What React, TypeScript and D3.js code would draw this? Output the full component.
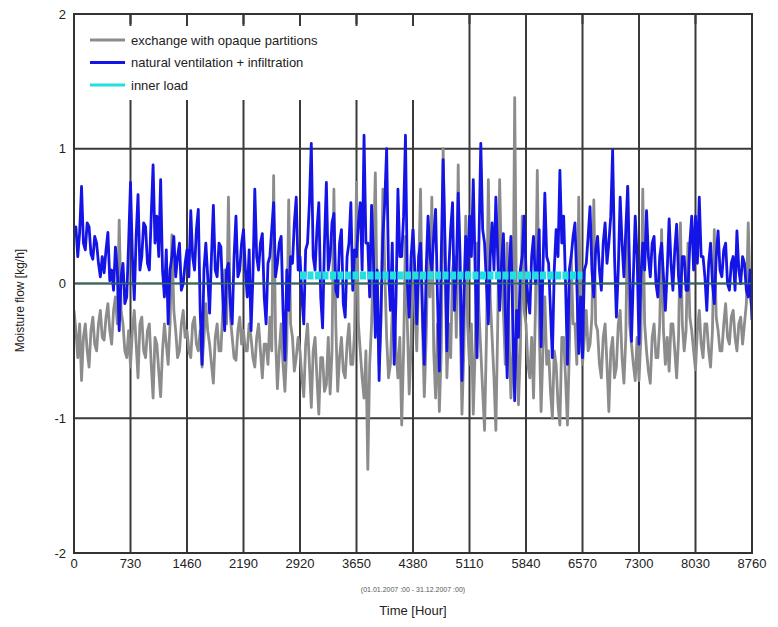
import React from "react";
import * as d3 from "d3";

// ---------- data ----------
const xTicks = [0, 730, 1460, 2190, 2920, 3650, 4380, 5110, 5840, 6570, 7300, 8030, 8760];
const yTicks = [-2, -1, 0, 1, 2];

// exchange with opaque partitions (kg/h), read at evenly spaced hours over the year
const opaqueExchange = [
  -0.2,-0.35, -0.55,-0.3, -0.72,-0.4, -0.3,-0.5, -0.62,-0.35, -0.25,-0.45, -0.5,-0.3, -0.2,-0.4, -0.42,-0.25, -0.15,-0.35, -0.45,-0.2, -0.1,-0.3, 0.47,-0.2, -0.3,-0.5, -0.55,-0.35,
  -0.62,-0.35, -0.2,-0.45, -0.7,-0.3, -0.25,-0.5, -0.55,-0.35, -0.3,-0.6, -0.85,-0.4, -0.45,-0.65, -0.84,-0.5, -0.3,-0.45, -0.6,-0.3, 0.36,-0.2, -0.35,-0.55, -0.5,-0.3, -0.2,-0.4,
  -0.35,-0.5, -0.55,-0.3, -0.25,-0.45, -0.5,-0.35, -0.62,-0.4, -0.15,-0.35, -0.45,-0.6, -0.74,-0.4, -0.3,-0.5, -0.5,-0.2, 0.1,-0.3, 0.64,-0.25, -0.4,-0.55, -0.57,-0.35, -0.25,-0.45,
  -0.35,-0.5, -0.5,-0.3, -0.4,-0.55, -0.62,-0.4, -0.3,-0.5, -0.7,-0.45, -0.45,-0.6, -0.25,-0.5, 0.8,-0.4, -0.78,-0.5, -0.3,-0.6, -0.8,-0.45, 0.62,-0.3, -0.4,-0.65, -0.55,-0.4,
  -0.5,-0.7, -0.84,-0.45, -0.3,-0.6, -0.92,-0.5, -0.4,-0.7, -0.97,-0.55, -0.55,-0.8, -0.75,-0.4, -0.82,-0.5, 0.7,-0.3, -0.8,-0.55, -0.4,-0.65, -0.7,-0.45, -0.3,-0.6, -0.6,-0.35,
  0.75,-0.3, -0.5,-0.7, -0.85,-0.5, -1.38,-0.6, -0.3,0.2, 0.82,-0.2, -0.6,-0.3, 0.7,0.1, -0.4,-0.7, -0.6,-0.2, -0.15,-0.5, -0.7,-0.4, -1.05,-0.5, 0.35,-0.3, -0.82,-0.45,
  0.4,-0.2, -0.5,0.1, 0.7,-0.3, -0.84,-0.4, 0.3,-0.1, 0.64,-0.5, -0.85,-0.3, -0.95,-0.5, 1.0,0.2, -0.7,-0.3, -0.55,0.1, 0.2,-0.4, 0.88,-0.2, -0.97,-0.5, 0.5,-0.3,
  -0.6,-0.3, -0.97,-0.5, 0.3,-0.2, -0.5,-0.8, -1.09,-0.4, 0.77,-0.1, -0.4,-0.7, -1.09,-0.3, 0.77,0.1, -0.2,-0.6, 0.3,-0.4, -0.85,-0.5, 1.38,-0.3, -0.9,-0.5, 0.5,-0.2,
  -0.3,-0.6, -0.7,-0.4, -0.85,-0.2, 0.84,-0.3, -0.95,-0.5, -0.1,-0.6, -0.5,-0.8, -1.0,-0.5, -0.6,-0.9, -1.05,-0.4, -0.4,-0.7, -1.05,-0.5, 0.2,-0.3, -0.3,-0.6, 0.64,-0.3,
  -0.6,-0.4, -0.2,-0.5, -0.45,-0.25, 0.62,-0.3, -0.35,-0.6, -0.7,-0.4, -0.3,-0.6, -0.95,-0.5, -0.4,-0.7, -0.62,-0.3, -0.2,-0.55, -0.74,-0.4, 0.72,-0.3, -0.45,-0.6, -0.72,-0.4,
  -0.72,-0.4, 0.7,-0.3, -0.5,-0.65, -0.74,-0.4, -0.3,-0.55, -0.55,-0.3, 0.4,-0.35, -0.6,-0.4, -0.65,-0.3, -0.3,-0.5, -0.7,-0.4, 0.45,-0.3, -0.5,-0.35, 0.3,-0.25, -0.35,-0.5,
  -0.64,-0.35, -0.2,-0.45, -0.55,-0.3, -0.3,-0.5, -0.62,-0.35, 0.4,-0.25, -0.35,-0.5, -0.5,-0.3, -0.15,-0.4, -0.45,-0.25, -0.2,-0.4, -0.5,-0.3, -0.25,-0.45, -0.3,-0.15, 0.45,-0.1, -0.2,
];

// natural ventilation + infiltration (kg/h)
const ventilation = [
  0.35,0.42, 0.2,0.38, 0.72,0.3, 0.25,0.45, 0.42,0.22, 0.18,0.35, 0.3,0.15, 0.05,0.2, 0.08,0.25, 0.38,0.02, 0.1,-0.05, 0.27,0.1, -0.35,0.05, 0.15,-0.15, -0.1,0.3,
  0.75,0.2, -0.12,0.35, 0.66,0.1, 0.2,0.45, 0.42,0.15, 0.1,0.5, 0.88,0.3, 0.5,0.2, 0.77,0.1, -0.1,0.25, -0.3,0.1, 0.2,0.35, 0.05,0.2, 0.3,-0.05, 0.0,0.15,
  0.25,0.05, 0.54,0.2, 0.1,0.4, 0.55,-0.2, -0.6,0.1, 0.3,0.05, -0.22,0.2, 0.58,0.1, 0.05,0.3, 0.27,-0.1, -0.35,0.1, 0.15,-0.15, -0.3,0.2, 0.5,0.05, 0.1,0.3,
  0.4,0.1, -0.1,0.25, -0.35,0.05, 0.7,0.2, 0.1,0.3, 0.37,-0.1, -0.3,0.15, 0.2,0.4, 0.6,0.05, 0.15,0.3, 0.35,-0.2, -0.57,0.1, -0.2,0.2, 0.15,0.45, 0.64,0.1,
  0.2,-0.1, -0.3,0.25, 0.3,0.6, 1.04,0.2, 0.1,0.4, 0.6,-0.1, -0.33,0.3, 0.75,0.1, 0.2,0.45, 0.52,-0.05, -0.1,0.3, 0.4,-0.15, -0.25,0.2, 0.3,0.6, -0.05,0.25,
  0.2,0.45, 0.6,0.1, 1.1,0.3, 0.3,-0.1, 0.58,0.2, -0.4,0.1, -0.72,-0.2, 0.35,0.6, 1.0,0.1, -0.2,0.3, -0.6,-0.1, 0.7,0.2, 0.2,0.5, 1.1,0.0, -0.25,0.2,
  0.4,0.1, -0.3,0.2, 0.3,-0.2, -0.6,0.1, 0.5,0.2, 0.1,0.35, 0.55,-0.1, -0.65,0.2, 0.92,0.3, -0.5,0.1, 0.4,0.6, -0.2,0.1, 0.67,0.2, -0.72,-0.1, 0.35,0.1,
  0.5,0.2, 0.77,0.1, -0.55,0.3, 1.04,0.4, 0.3,0.0, -0.3,0.2, 0.45,0.1, 0.64,0.2, -0.2,0.15, 0.37,-0.2, -0.7,0.1, 0.35,-0.3, -0.87,-0.2, -0.4,0.1, 0.2,0.5,
  0.1,-0.1, -0.22,0.2, 0.35,0.0, 0.1,0.4, -0.47,0.1, 0.67,0.2, 0.15,-0.2, -0.55,0.1, 0.4,0.2, 0.84,0.3, 0.5,0.0, -0.6,0.1, 0.2,0.35, 0.45,0.0, -0.52,-0.1,
  -0.55,0.1, 0.15,0.35, 0.57,0.1, -0.1,0.25, 0.35,0.1, -0.05,0.3, 0.45,0.15, 0.3,0.5, 0.99,0.2, -0.25,0.1, 0.64,0.3, 0.05,0.4, 0.72,0.1, -0.43,0.05, 0.5,0.2,
  -0.45,0.05, 0.3,0.1, 0.54,0.2, 0.05,0.3, 0.35,0.0, -0.1,0.2, 0.3,0.05, -0.2,0.1, 0.48,0.15, -0.05,0.25, 0.44,0.05, -0.1,0.2, 0.2,-0.05, -0.05,0.3, 0.5,0.1,
  0.5,0.15, 0.64,0.2, 0.2,0.05, -0.2,0.15, 0.3,0.0, -0.15,0.2, 0.39,0.1, 0.05,0.25, 0.3,0.0, -0.05,0.15, 0.2,-0.05, 0.39,0.1, 0.0,0.2, 0.15,-0.05, -0.1,0.1, -0.27,
];

// inner load (kg/h): on between these hours
const innerLoadHours = [2920, 6570];
const innerLoadValue = [0.06, 0.06];

const legendItems = [
  { label: "exchange with opaque partitions", color: "#8c8c8c" },
  { label: "natural ventilation + infiltration", color: "#1414e6" },
  { label: "inner load", color: "#22e0e0" },
];

// ---------- layout ----------
const W = 778;
const H = 627;
const L = 74;
const R = 752;
const T = 14;
const B = 553;
const FONT = "Liberation Sans, Arial, sans-serif";

export default function App() {
  const x = d3.scaleLinear().domain([0, 8760]).range([L, R]);
  const y = d3.scaleLinear().domain([-2, 2]).range([B, T]);

  const step = (n: number) => 8760 / (n - 1);
  const line = d3
    .line<number>()
    .x((_, i, arr) => x(i * step((arr as number[]).length)))
    .y((d) => y(d));

  const innerLine = d3
    .line<number>()
    .x((_, i) => x(innerLoadHours[i]))
    .y((d) => y(d));

  return (
    <svg
      width={W}
      height={H}
      style={{ position: "absolute", left: 0, top: 0, background: "#fff" }}
      fontFamily={FONT}
    >
      <defs>
        <clipPath id="plot">
          <rect x={L} y={T} width={R - L} height={B - T} />
        </clipPath>
      </defs>
      <rect x={0} y={0} width={W} height={H} fill="#fff" />

      {/* grid */}
      {xTicks.slice(1, -1).map((t) => (
        <line key={"gx" + t} x1={x(t)} x2={x(t)} y1={T} y2={B} stroke="#3a3a3a" strokeWidth={2} />
      ))}
      {yTicks.slice(1, -1).map((t) => (
        <line key={"gy" + t} x1={L} x2={R} y1={y(t)} y2={y(t)} stroke="#3a3a3a" strokeWidth={2} />
      ))}

      {/* series */}
      <g clipPath="url(#plot)">
        <path d={line(opaqueExchange) || ""} fill="none" stroke="#8c8c8c" strokeWidth={2.8} strokeLinejoin="round" />
        <path d={line(ventilation) || ""} fill="none" stroke="#1414e6" strokeWidth={2.8} strokeLinejoin="round" />
        <line x1={L} x2={R} y1={y(0)} y2={y(0)} stroke="#2e6e60" strokeWidth={1.5} />
        <path
          d={innerLine(innerLoadValue) || ""}
          fill="none"
          stroke="#22e0e0"
          strokeWidth={8}
          strokeDasharray="6,1.5"
        />
      </g>

      {/* legend box */}
      <rect x={L + 1} y={26} width={344} height={74} fill="#fff" />
      {/* ticks at top edge */}
      {xTicks.slice(1, -1).map((t) => (
        <line key={"tk" + t} x1={x(t)} x2={x(t)} y1={T} y2={T + 10} stroke="#3a3a3a" strokeWidth={2} />
      ))}
      {legendItems.map((it, i) => (
        <g key={it.label} transform={`translate(90, ${40 + i * 22.5})`}>
          <line x1={0} x2={35} y1={0} y2={0} stroke={it.color} strokeWidth={3} />
          <text x={41} y={4.5} fontSize={13} fill="#222">
            {it.label}
          </text>
        </g>
      ))}

      {/* frame */}
      <rect x={L} y={T} width={R - L} height={B - T} fill="none" stroke="#333" strokeWidth={2} />

      {/* y tick labels */}
      {yTicks.map((t) => (
        <text key={"yl" + t} x={L - 8} y={y(t) + 4.5} fontSize={13} textAnchor="end" fill="#222">
          {t}
        </text>
      ))}
      {/* x tick labels */}
      {xTicks.map((t) => (
        <text key={"xl" + t} x={x(t)} y={568} fontSize={13} textAnchor="middle" fill="#222">
          {t}
        </text>
      ))}

      <text x={(L + R) / 2} y={592} fontSize={7} textAnchor="middle" fill="#555">
        (01.01.2007 :00 - 31.12.2007 :00)
      </text>
      <text x={(L + R) / 2} y={615} fontSize={13} textAnchor="middle" fill="#222">
        Time [Hour]
      </text>
      <text
        transform={`translate(24, ${(T + B) / 2 + 17}) rotate(-90)`}
        fontSize={12}
        textAnchor="middle"
        fill="#222"
      >
        Moisture flow [kg/h]
      </text>
    </svg>
  );
}
